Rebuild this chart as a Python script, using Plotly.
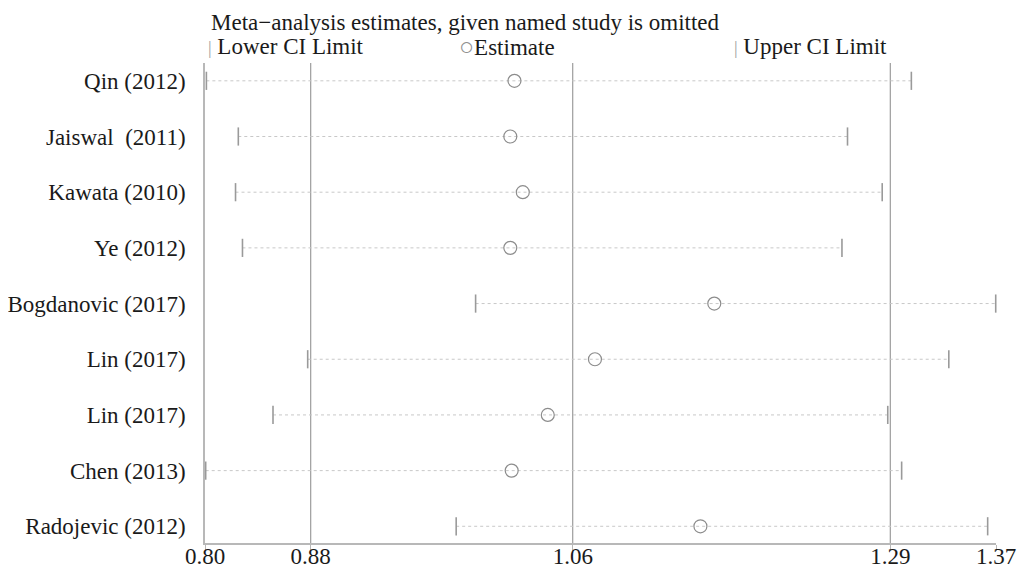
import plotly.graph_objects as go

# ---- data ----
studies = ["Qin (2012)", "Jaiswal\u00a0 (2011)", "Kawata (2010)", "Ye (2012)",
           "Bogdanovic (2017)", "Lin (2017)", "Lin (2017)", "Chen (2013)",
           "Radojevic (2012)"]
lower = [0.801, 0.824, 0.822, 0.827, 0.995, 0.874, 0.849, 0.8005, 0.981]
estimate = [1.023, 1.020, 1.029, 1.020, 1.167, 1.081, 1.047, 1.021, 1.157]
upper = [1.309, 1.263, 1.288, 1.259, 1.3698, 1.336, 1.292, 1.302, 1.364]

# overall lower CI, overall estimate, overall upper CI (reference lines)
overall = [0.8762, 1.0650, 1.2938]
tick_vals = [0.80, 0.8762, 1.0650, 1.2938, 1.37]
tick_text = ["0.80", "0.88", "1.06", "1.29", "1.37"]

rows = list(range(1, len(studies) + 1))
FONT = "Liberation Serif"
FS = 23

# the page body adds an 8px margin; the figure is sized to fill the window
W, H = 1017, 566

fig = go.Figure()

# dotted CI lines
lx, ly = [], []
for lo, up, r in zip(lower, upper, rows):
    lx += [lo, up, None]
    ly += [r, r, None]
fig.add_trace(go.Scatter(x=lx, y=ly, mode="lines", showlegend=False,
                         line=dict(color="#c8c8c8", width=1, dash="dot"),
                         hoverinfo="skip", cliponaxis=False))

fig.add_trace(go.Scatter(x=lower, y=rows, mode="markers", name="Lower CI Limit",
                         marker=dict(symbol="line-ns", size=13,
                                     line=dict(color="#9a9a9a", width=1.6)),
                         showlegend=False, cliponaxis=False))
fig.add_trace(go.Scatter(x=upper, y=rows, mode="markers", name="Upper CI Limit",
                         marker=dict(symbol="line-ns", size=13,
                                     line=dict(color="#9a9a9a", width=1.6)),
                         showlegend=False, cliponaxis=False))
fig.add_trace(go.Scatter(x=estimate, y=rows, mode="markers", name="Estimate",
                         marker=dict(symbol="circle-open", size=13,
                                     color="#8c8c8c",
                                     line=dict(color="#8c8c8c", width=1.2)),
                         showlegend=False, cliponaxis=False))

for v in overall:
    fig.add_shape(type="line", x0=v, x1=v, y0=0, y1=1, xref="x", yref="paper",
                  line=dict(color="#888888", width=1), layer="below")

# legend-like header row
fig.add_annotation(x=0.003, y=1.0354, xref="paper", yref="paper",
                   xanchor="left", yanchor="middle", showarrow=False, borderpad=0,
                   text='<span style="color:#a0a0a0;font-size:18px">|</span> Lower CI Limit',
                   font=dict(family=FONT, size=FS, color="#1a1a1a"))
fig.add_annotation(x=0.320, y=1.0354, xref="paper", yref="paper",
                   xanchor="left", yanchor="middle", showarrow=False, borderpad=0,
                   text='<span style="color:#909090;font-size:25px">\u25cb</span>Estimate',
                   font=dict(family=FONT, size=FS, color="#1a1a1a"))
fig.add_annotation(x=0.668, y=1.0354, xref="paper", yref="paper",
                   xanchor="left", yanchor="middle", showarrow=False, borderpad=0,
                   text='<span style="color:#a0a0a0;font-size:18px">|</span> Upper CI Limit',
                   font=dict(family=FONT, size=FS, color="#1a1a1a"))

fig.update_layout(
    width=W, height=H,
    margin=dict(l=197, r=29, t=55, b=31, autoexpand=False),
    paper_bgcolor="white", plot_bgcolor="white",
    font=dict(family=FONT, size=FS, color="#1a1a1a"),
    title=dict(text="Meta\u2212analysis estimates, given named study is omitted",
               x=0.0076, xref="paper", xanchor="left",
               y=1 - 14 / H, yref="container", yanchor="middle",
               font=dict(family=FONT, size=FS, color="#1a1a1a")),
    xaxis=dict(range=[0.80, 1.37], tickvals=tick_vals, ticktext=tick_text,
               showgrid=False, zeroline=False, showline=True,
               linecolor="#b8b8b8", linewidth=1.5,
               ticks="outside", ticklen=6, tickcolor="#b8b8b8", tickwidth=1,
               ticklabelstandoff=-14,
               tickfont=dict(family=FONT, size=FS), automargin=False),
    yaxis=dict(range=[9.3, 0.68], tickvals=rows, ticktext=studies,
               showgrid=False, zeroline=False, showline=True,
               linecolor="#b8b8b8", linewidth=1.5, ticks="",
               ticklabelstandoff=13,
               tickfont=dict(family=FONT, size=FS), automargin=False),
)

fig.write_html("out.html")
